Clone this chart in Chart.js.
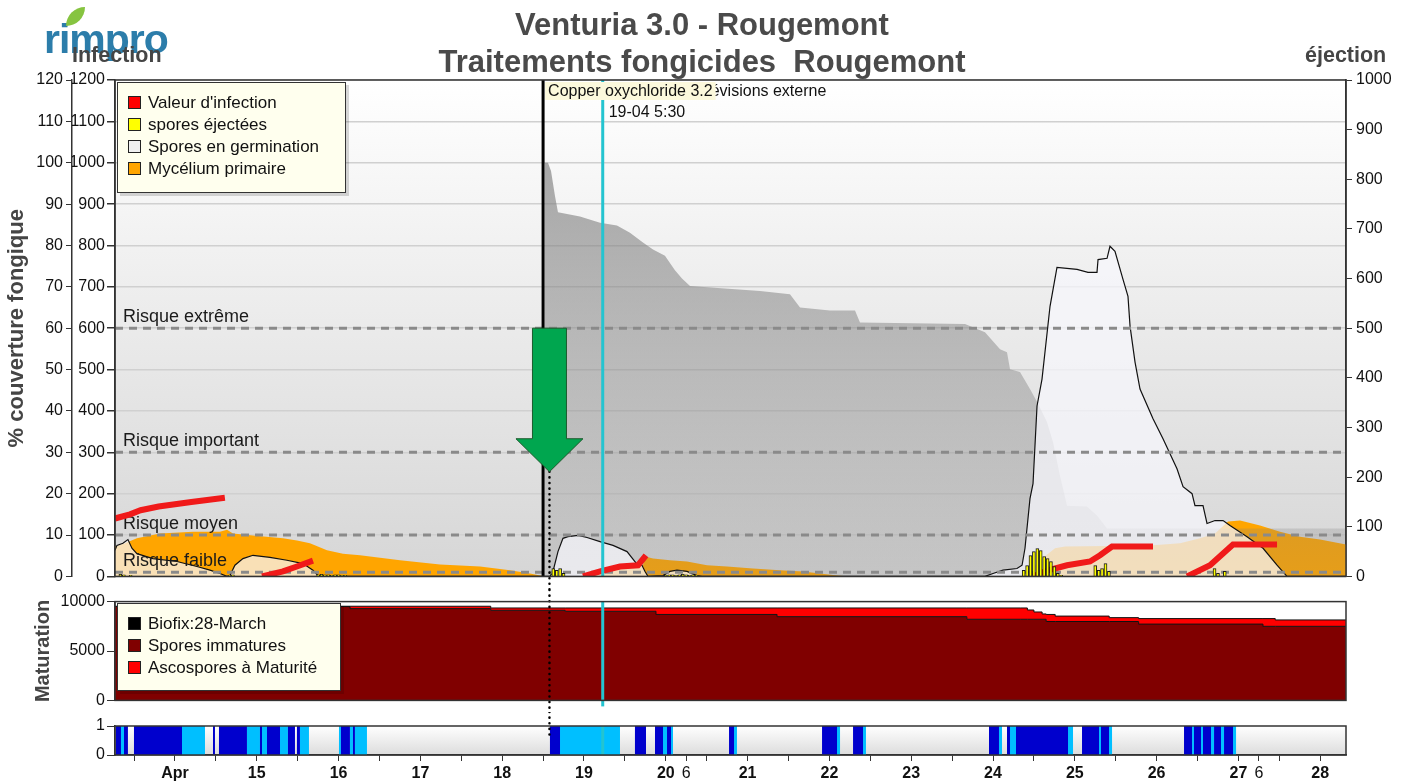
<!DOCTYPE html>
<html lang="fr">
<head>
<meta charset="utf-8">
<title>Venturia 3.0 - Rougemont</title>
<script src="https://cdn.jsdelivr.net/npm/chart.js@4.4.1/dist/chart.umd.min.js"></script>
<style>
  body { margin: 0; background: #fff; font-family: 'Liberation Sans', Arial, sans-serif; }
  #wrap { position: relative; width: 1409px; height: 781px; overflow: hidden; }
  canvas { position: absolute; left: 0; }
  .t { position: absolute; white-space: pre; }
  .title { left: 0; width: 1404px; text-align: center; font-weight: bold; font-size: 31px; color: #4a4a4a; line-height: 36px; }
  .axisname { font-weight: bold; font-size: 21.5px; color: #454545; line-height: 22px; }
  .legend { position: absolute; box-sizing: border-box; background: #ffffee; border: 1px solid #333;
            box-shadow: 3px 3px 0 rgba(0,0,0,.15); font-size: 17px; color: #111; padding: 9px 0 0 10px; }
  .legend div { height: 22px; line-height: 22px; white-space: nowrap; }
  .legend i { display: inline-block; width: 11px; height: 11px; border: 1px solid #222; vertical-align: -1px; margin-right: 7px; }
  .logo { left: 44px; top: 19px; font-weight: bold; font-size: 41px; line-height: 40px; color: #2c7daa; letter-spacing: -1px; }
  .leaf { position: absolute; left: 66px; top: 7px; width: 19px; height: 19px; background: #86c440; border-radius: 100% 0 100% 0; }
</style>
</head>
<body>
<div id="wrap">
  <canvas id="main" width="1409" height="590" style="top:0"></canvas>
  <canvas id="mat" width="1409" height="122" style="top:590px"></canvas>
  <canvas id="wet" width="1409" height="69" style="top:712px"></canvas>

  <div class="t logo">rimpro</div>
  <div class="leaf"></div>
  <div class="t title" style="top:7px">Venturia 3.0 - Rougemont</div>
  <div class="t title" style="top:44px">Traitements fongicides  Rougemont</div>
  <div class="t axisname" style="left:72px;top:44px">Infection</div>
  <div class="t axisname" style="left:1305px;top:44px">éjection</div>
  <div class="legend" id="mainLegend" style="left:117px;top:82px;width:229px;height:111px"></div>
  <div class="legend" id="matLegend" style="left:117px;top:603px;width:224px;height:88px"></div>
</div>
<script>
// time axis in days of April (14.0 = 14 April 00:00)
const X_MIN = 13.267, X_MAX = 28.315;

// fungicide coverage (%), gray area
const coverT = [18.515, 18.52, 18.56, 18.597, 18.645, 18.682, 18.951, 19.196, 19.403, 19.562,
  19.721, 19.844, 19.99, 20.112, 20.198, 20.296, 21.152, 21.518, 21.641, 22.007,
  22.313, 22.374, 23.658, 23.902, 24.086, 24.171, 24.208, 24.33, 24.452, 24.538,
  24.66, 24.733, 24.819, 24.905, 25.149, 25.271, 25.394, 28.315];
const coverV = [0, 100, 100, 98, 92, 88, 87, 85.5, 84.8, 83.1,
  80.7, 79, 77.5, 74, 72, 70.2, 69, 68.2, 65, 64.3,
  64.3, 61.4, 61, 59, 54.9, 54.2, 50.1, 49.4, 45.3, 42.2,
  37.3, 32.5, 24.3, 17.1, 16.9, 14.7, 11.6, 11.6];

// primary mycelium (infection scale)
const mycT = [13.267, 13.389, 13.535, 13.817, 14.22, 14.55, 14.636, 14.709, 14.954, 15.32,
  15.491, 15.65, 15.858, 16.054, 16.262, 16.751, 17.24, 17.729, 18.095, 18.34,
  18.523, 19.134, 19.196, 19.721, 19.746, 19.844, 20.051, 20.259, 20.504, 20.748,
  21.066, 21.396, 21.677, 21.885, 22.093, 22.252, 24.391, 24.575, 24.758, 24.88,
  25.919, 26.286, 26.531, 26.714, 26.873, 27.02, 27.264, 27.509, 27.753, 27.998, 28.315];
const mycV = [72, 80, 92, 104, 108, 108, 113, 104, 99, 92,
  87, 80, 63, 55, 51, 39, 29, 24, 15, 7,
  0, 0, 19, 27, 48, 43, 39, 36, 27, 24,
  19, 15, 12, 7, 2, 0, 0, 39, 68, 72,
  75, 80, 92, 104, 133, 135, 123, 108, 96, 89, 77];

// germinating spores (infection scale)
const germT = [13.267, 13.291, 13.364, 13.425, 13.474, 13.535, 13.731, 14.024, 14.269, 14.428,
  14.55, 14.636, 14.672, 14.733, 14.831, 14.954, 15.161, 15.369, 15.565, 15.687,
  15.748, 15.834, 18.584, 18.621, 18.682, 18.743, 18.804, 18.927, 19.037, 19.196,
  19.355, 19.526, 19.623, 19.66, 19.709, 19.746, 19.782, 19.966, 20.051, 20.137,
  20.259, 20.381, 20.443, 23.902, 24.0, 24.122, 24.293, 24.355, 24.391, 24.452,
  24.489, 24.538, 24.599, 24.697, 24.782, 25.027, 25.161, 25.271, 25.284, 25.394,
  25.43, 25.491, 25.589, 25.65, 25.675, 25.736, 25.797, 25.956, 26.078, 26.249,
  26.323, 26.433, 26.469, 26.567, 26.616, 26.714, 26.812, 26.897, 27.105, 27.301,
  27.472, 27.594, 28.315];
const germV = [63, 75, 80, 89, 68, 55, 43, 36, 24, 15,
  7, 0, 2, 27, 43, 51, 46, 39, 31, 15,
  2, 0, 0, 12, 60, 92, 96, 99, 94, 84,
  75, 60, 36, 27, 27, 12, 0, 2, 12, 15,
  12, 2, 0, 0, 7, 15, 19, 27, 68, 188,
  224, 412, 477, 653, 747, 742, 735, 735, 766, 769,
  798, 786, 718, 677, 605, 518, 453, 381, 333, 260,
  217, 200, 171, 171, 128, 135, 135, 123, 96, 68,
  27, 0, 0];

// infection value (red), null = gap
const infT = [13.267, 13.45, 13.58, 13.8, 14.2, 14.61, 14.62,
  15.064, 15.32, 15.491, 15.687, 15.7,
  18.988, 19.196, 19.44, 19.66, 19.758, 19.77,
  24.489, 24.66, 24.905, 25.186, 25.308, 25.455, 25.956, 25.97,
  26.372, 26.653, 26.934, 27.472];
const infV = [140, 150, 160, 169, 180, 190, null,
  0, 12, 24, 38, null,
  0, 12, 24, 27, 51, null,
  0, 14, 27, 36, 51, 72, 72, null,
  0, 27, 77, 77];

// ejected spores (right axis), hourly bars
const ejT = [13.333, 13.375, 13.458, 14.667, 14.708,
  15.75, 15.792, 15.833, 15.875, 15.917, 15.958, 16.0, 16.042, 16.083,
  18.625, 18.667, 18.708, 18.75,
  20.0, 20.042, 20.083, 20.125, 20.167, 20.208, 20.25, 20.292, 20.333, 20.375,
  24.375, 24.417, 24.458, 24.5, 24.542, 24.583, 24.625, 24.667, 24.708, 24.75, 24.792, 24.833,
  25.25, 25.292, 25.333, 25.375, 25.417,
  26.708, 26.75, 26.833];
const ejV = [4, 3, 2, 2, 3,
  3, 4, 3, 3, 2, 3, 3, 2, 2,
  16, 12, 16, 6,
  2, 3, 3, 2, 3, 4, 3, 2, 3, 2,
  12, 22, 42, 50, 56, 52, 40, 36, 30, 20, 6, 2,
  22, 12, 16, 26, 10,
  16, 6, 10];

// maturation (step values, held until next time)
const matT = [13.267, 16.14, 17.86, 18.77, 19.88, 21.36, 23.68, 24.34, 24.42, 24.5,
  24.6, 24.65, 24.76, 25.42, 25.78, 27.3, 27.45, 28.315];
const matImmature = [9500, 9290, 9120, 9020, 8700, 8475, 8211, 8211, 8211, 8211,
  8211, 7986, 7986, 7986, 7722, 7498, 7498, 7498];
const matMature = [30, 240, 235, 335, 655, 880, 1144, 1144, 939, 739,
  539, 714, 548, 391, 558, 782, 645, 645];

// leaf wetness: 2 = wet (dark blue), 1 = light blue
const wetStart = [13.279, 13.34, 13.377, 13.499, 14.086, 14.465, 14.538, 14.88, 15.039, 15.064,
  15.125, 15.284, 15.381, 15.491, 15.528, 16.005, 16.029, 16.139, 16.176, 16.2,
  18.584, 18.707, 19.623, 19.868, 19.966, 20.015, 20.064, 20.773, 20.834, 21.91,
  22.093, 22.289, 22.411, 23.951, 24.073, 24.171, 24.208, 24.281, 24.917, 25.088,
  25.296, 25.32, 25.418, 26.335, 26.433, 26.457, 26.543, 26.567, 26.665, 26.702,
  26.787, 26.824, 26.934];
const wetEnd = [13.34, 13.377, 13.425, 14.086, 14.367, 14.489, 14.88, 15.039, 15.064, 15.125,
  15.284, 15.381, 15.467, 15.528, 15.638, 16.029, 16.139, 16.176, 16.2, 16.347,
  18.707, 19.44, 19.758, 19.966, 20.015, 20.064, 20.088, 20.834, 20.87, 22.093,
  22.13, 22.411, 22.447, 24.073, 24.11, 24.208, 24.281, 24.917, 24.978, 25.296,
  25.32, 25.418, 25.455, 26.433, 26.457, 26.543, 26.567, 26.665, 26.702, 26.787,
  26.824, 26.934, 26.971];
const wetLevel = [2, 1, 2, 2, 1, 2, 2, 1, 2, 1,
  2, 1, 2, 2, 1, 1, 2, 1, 2, 1,
  2, 1, 2, 2, 1, 2, 1, 2, 1, 2,
  1, 2, 1, 2, 1, 2, 1, 2, 1, 2,
  1, 2, 1, 2, 1, 2, 1, 2, 1, 2,
  1, 2, 1];

// risk thresholds (% scale)
const riskLevels = [60, 30, 10, 1];
const riskLabels = ['Risque extrême', 'Risque important', 'Risque moyen', 'Risque faible'];

// treatment and forecast markers
const treatTime = [18.5];
const treatLabel = ['Copper oxychloride 3.2'];
const arrowTime = 18.578, arrowTop = 60, arrowTip = 25.3;
const forecastTime = 19.229;
const forecastLabel = ['Prévisions externe', '19-04 5:30'];

// x axis: day labels at midnight, extra "6" marks
const extraTicks = [20.25, 27.25];
const extraTickLabel = '6';
const monthLabel = 'Apr';

const mainLegend = [["Valeur d'infection", '#ff0000'], ['spores éjectées', '#ffff00'],
  ['Spores en germination', '#f0f0f0'], ['Mycélium primaire', '#ffa500']];
const matLegend = [['Biofix:28-March', '#000000'], ['Spores immatures', '#800000'],
  ['Ascospores à Maturité', '#ff0000']];

const FONT = "'Liberation Sans', Arial, sans-serif";
const CYAN = '#24c4d0';
const plain = (v) => String(v);

Chart.defaults.font.family = FONT;
Chart.defaults.font.size = 16;
Chart.defaults.color = '#111';
Chart.defaults.animation = false;
Chart.defaults.events = [];
Chart.defaults.plugins.legend.display = false;
Chart.defaults.plugins.tooltip.enabled = false;
Chart.defaults.elements.point.radius = 0;

function fillLegend(id, items) {
  document.getElementById(id).innerHTML = items
    .map(([t, c]) => `<div><i style="background:${c}"></i>${t}</div>`).join('');
}
fillLegend('mainLegend', mainLegend);
fillLegend('matLegend', matLegend);

const pts = (t, v) => t.map((x, i) => ({x, y: v[i]}));

function line(ctx, x0, y0, x1, y1) {
  ctx.beginPath(); ctx.moveTo(x0, y0); ctx.lineTo(x1, y1); ctx.stroke();
}
function dotted(ctx, x, y0, y1) {
  ctx.save();
  ctx.strokeStyle = '#000'; ctx.lineWidth = 2.5; ctx.lineCap = 'round';
  ctx.setLineDash([0.1, 5.5]);
  line(ctx, x, y0, x, y1);
  ctx.restore();
}
function frame(ctx, a) {
  ctx.save();
  ctx.strokeStyle = '#333'; ctx.lineWidth = 1.5;
  ctx.strokeRect(a.left, a.top, a.right - a.left, a.bottom - a.top);
  ctx.restore();
}
function vGradient(ctx, a, c0, c1) {
  const g = ctx.createLinearGradient(0, a.top, 0, a.bottom);
  g.addColorStop(0, c0); g.addColorStop(1, c1);
  return g;
}

// ---------- main chart ----------
const mainMarks = {
  id: 'mainMarks',
  beforeDraw(chart) {
    const {ctx, chartArea: a} = chart;
    ctx.save();
    ctx.fillStyle = vGradient(ctx, a, '#ffffff', '#d6d6d6');
    ctx.fillRect(a.left, a.top, a.right - a.left, a.bottom - a.top);
    ctx.restore();
  },
  beforeDatasetDraw(chart, args) {
    if (chart.data.datasets[args.index].label !== "Valeur d'infection") return;
    const {ctx, chartArea: a, scales: {pct}} = chart;
    ctx.save();
    ctx.strokeStyle = '#8a8a8a'; ctx.lineWidth = 3; ctx.setLineDash([8, 6]);
    ctx.font = '18px ' + FONT; ctx.fillStyle = '#1a1a1a';
    ctx.textAlign = 'left'; ctx.textBaseline = 'alphabetic';
    riskLevels.forEach((lv, i) => {
      const y = pct.getPixelForValue(lv);
      line(ctx, a.left, y, a.right, y);
      ctx.fillText(riskLabels[i], a.left + 8, y - 6);
    });
    ctx.restore();
  },
  afterDatasetsDraw(chart) {
    const {ctx, chartArea: a, scales: {x, pct}} = chart;
    ctx.save();
    ctx.font = '16px ' + FONT; ctx.textBaseline = 'middle';

    // forecast marker
    const fx = x.getPixelForValue(forecastTime);
    ctx.strokeStyle = CYAN; ctx.lineWidth = 3;
    line(ctx, fx, a.top, fx, a.bottom);
    ctx.fillStyle = '#111'; ctx.textAlign = 'left';
    ctx.fillText(forecastLabel[1], fx + 6, a.top + 33);

    // treatments (label box hides the start of the forecast label)
    treatTime.forEach((t, i) => {
      const tx = x.getPixelForValue(t);
      ctx.strokeStyle = '#000'; ctx.lineWidth = 3;
      line(ctx, tx, a.top, tx, a.bottom);
      const w = ctx.measureText(treatLabel[i]).width;
      const boxR = tx + 8 + w;
      ctx.fillStyle = '#111';
      ctx.fillText(forecastLabel[0], boxR - ctx.measureText('Pré').width + 4, a.top + 12);
      ctx.fillStyle = '#fcf9dc';
      ctx.fillRect(tx + 2, a.top + 2, w + 6, 18);
      ctx.fillStyle = '#111';
      ctx.fillText(treatLabel[i], tx + 5, a.top + 11.5);
    });

    // green arrow + dotted line
    const ax = x.getPixelForValue(arrowTime);
    const yTop = pct.getPixelForValue(arrowTop), yTip = pct.getPixelForValue(arrowTip);
    const sh = 17, hh = 33.5, hl = 33;
    dotted(ctx, ax, yTip, chart.height);
    ctx.beginPath();
    ctx.moveTo(ax - sh, yTop); ctx.lineTo(ax + sh, yTop); ctx.lineTo(ax + sh, yTip - hl);
    ctx.lineTo(ax + hh, yTip - hl); ctx.lineTo(ax, yTip); ctx.lineTo(ax - hh, yTip - hl);
    ctx.lineTo(ax - sh, yTip - hl); ctx.closePath();
    ctx.fillStyle = '#00a64f'; ctx.fill();
    ctx.strokeStyle = '#1c5a2c'; ctx.lineWidth = 1; ctx.stroke();
    ctx.restore();
    frame(ctx, a);
  }
};

new Chart(document.getElementById('main'), {
  type: 'line',
  data: {
    datasets: [
      {
        type: 'bar', label: 'spores éjectées', yAxisID: 'ej', order: 1,
        data: pts(ejT, ejV), backgroundColor: '#ffff00', borderColor: '#1a1a1a',
        borderWidth: 1, barThickness: 3
      },
      {
        label: "Valeur d'infection", yAxisID: 'inf', order: 2,
        data: pts(infT, infV), borderColor: '#f01a1a', borderWidth: 6,
        borderCapStyle: 'butt', spanGaps: false, fill: false
      },
      {
        label: 'Spores en germination', yAxisID: 'inf', order: 3,
        data: pts(germT, germV), borderColor: '#111', borderWidth: 1.2,
        backgroundColor: 'rgba(246,246,252,0.72)', fill: 'origin'
      },
      {
        label: 'Couverture fongicide', yAxisID: 'pct', order: 4,
        data: pts(coverT, coverV), borderWidth: 0, fill: 'origin',
        backgroundColor: (c) => {
          const a = c.chart.chartArea;
          if (!a) return 'rgba(128,128,128,0.5)';
          return vGradient(c.chart.ctx, a, 'rgba(125,125,125,0.75)', 'rgba(128,128,128,0.2)');
        }
      },
      {
        label: 'Mycélium primaire', yAxisID: 'inf', order: 5,
        data: pts(mycT, mycV), borderWidth: 0, backgroundColor: '#ffa500', fill: 'origin'
      }
    ]
  },
  options: {
    responsive: false, devicePixelRatio: 1,
    layout: { padding: { top: 80, bottom: 12, left: 0, right: 0 } },
    scales: {
      x: { type: 'linear', min: X_MIN, max: X_MAX, offset: false, display: false },
      pct: {
        position: 'left', weight: 1, min: 0, max: 120,
        ticks: { stepSize: 10, padding: 3, color: '#111', callback: plain },
        grid: { drawOnChartArea: false, tickLength: 6, tickColor: '#333' },
        border: { color: '#333', width: 1.5 },
        title: { display: true, text: '% couverture fongique', color: '#454545',
                 font: { size: 22, weight: 'bold' }, padding: { top: 4, bottom: 0 } },
        afterFit: (s) => { s.width = 72; }
      },
      inf: {
        position: 'left', weight: 0, min: 0, max: 1200,
        ticks: { stepSize: 100, padding: 2, color: '#111', callback: plain },
        grid: { color: '#d0d0d0', lineWidth: 1.5, tickLength: 8, tickColor: '#333' },
        border: { color: '#333', width: 1.5 },
        afterFit: (s) => { s.width = 43; }
      },
      ej: {
        position: 'right', min: 0, max: 1000,
        ticks: { stepSize: 100, padding: 4, color: '#111', callback: plain },
        grid: { drawOnChartArea: false, tickLength: 6, tickColor: '#333' },
        border: { color: '#333', width: 1.5 },
        afterFit: (s) => { s.width = 63; }
      }
    }
  },
  plugins: [mainMarks]
});

// ---------- maturation chart ----------
const matMarks = {
  id: 'matMarks',
  afterDatasetsDraw(chart) {
    const {ctx, chartArea: a, scales: {x}} = chart;
    ctx.save();
    const fx = x.getPixelForValue(forecastTime);
    ctx.strokeStyle = CYAN; ctx.lineWidth = 3;
    line(ctx, fx, a.top, fx, a.bottom + 6);
    ctx.restore();
    dotted(ctx, x.getPixelForValue(arrowTime), 0, chart.height);
    frame(ctx, a);
  }
};

new Chart(document.getElementById('mat'), {
  type: 'line',
  data: {
    datasets: [
      {
        label: 'Spores immatures', order: 0, stepped: true,
        data: pts(matT, matImmature), backgroundColor: '#800000',
        borderColor: '#111', borderWidth: 1, fill: 'origin'
      },
      {
        label: 'Ascospores à Maturité', order: 1, stepped: true,
        data: pts(matT, matMature), backgroundColor: '#ff0000',
        borderColor: '#111', borderWidth: 1, fill: '-1'
      }
    ]
  },
  options: {
    responsive: false, devicePixelRatio: 1,
    layout: { padding: { top: 10, bottom: 8, left: 27, right: 63 } },
    scales: {
      x: { type: 'linear', min: X_MIN, max: X_MAX, offset: false, display: false },
      y: {
        stacked: true, min: 0, max: 10000,
        ticks: { stepSize: 5000, padding: 2, color: '#111', callback: plain },
        grid: { drawOnChartArea: false, tickLength: 8, tickColor: '#333' },
        border: { color: '#333', width: 1.5 },
        title: { display: true, text: 'Maturation', color: '#454545',
                 font: { size: 20, weight: 'bold' }, padding: { top: 4, bottom: 0 } },
        afterFit: (s) => { s.width = 88; }
      }
    }
  },
  plugins: [matMarks]
});

// ---------- leaf wetness strip ----------
function wetSeries(level) {
  const out = [{x: X_MIN, y: 0}];
  wetStart.forEach((s, i) => {
    if (wetLevel[i] === level) out.push({x: s, y: 1}, {x: wetEnd[i], y: 0});
  });
  out.push({x: X_MAX, y: 0});
  return out;
}

const wetMarks = {
  id: 'wetMarks',
  beforeDraw(chart) {
    const {ctx, chartArea: a} = chart;
    ctx.save();
    ctx.fillStyle = vGradient(ctx, a, '#ffffff', '#dcdcdc');
    ctx.fillRect(a.left, a.top, a.right - a.left, a.bottom - a.top);
    ctx.restore();
  },
  afterDatasetsDraw(chart) {
    const {ctx, chartArea: a, scales: {x}} = chart;
    ctx.save();
    const fx = x.getPixelForValue(forecastTime);
    ctx.strokeStyle = CYAN; ctx.lineWidth = 3;
    line(ctx, fx, a.top, fx, a.bottom);
    ctx.restore();
    dotted(ctx, x.getPixelForValue(arrowTime), 0, a.top + 14);
    frame(ctx, a);
  }
};

new Chart(document.getElementById('wet'), {
  type: 'line',
  data: {
    datasets: [
      { label: 'humide', data: wetSeries(2), stepped: true, borderWidth: 0,
        backgroundColor: '#0000cd', fill: 'origin' },
      { label: 'mouillé', data: wetSeries(1), stepped: true, borderWidth: 0,
        backgroundColor: '#00bfff', fill: 'origin' }
    ]
  },
  options: {
    responsive: false, devicePixelRatio: 1,
    layout: { padding: { top: 14, bottom: 0, left: 27, right: 63 } },
    scales: {
      x: {
        type: 'linear', min: X_MIN, max: X_MAX, offset: false,
        afterBuildTicks: (s) => {
          const t = [];
          for (let d = Math.ceil(X_MIN * 2) / 2; d <= X_MAX; d += 0.5) t.push(d);
          extraTicks.forEach(v => t.push(v));
          s.ticks = t.sort((p, q) => p - q).map(value => ({value}));
        },
        ticks: {
          autoSkip: false, maxRotation: 0, minRotation: 0, padding: 3, color: '#111',
          callback: (v) => {
            if (Number.isInteger(v)) return v === 14 ? monthLabel : String(v);
            return extraTicks.includes(v) ? extraTickLabel : '';
          },
          font: (c) => ({ size: 16, weight: c.tick && Number.isInteger(c.tick.value) ? 'bold' : 'normal' })
        },
        grid: { drawOnChartArea: false, tickLength: 6, tickColor: '#333' },
        border: { color: '#333', width: 1.5 },
        afterFit: (s) => { s.height = 26; }
      },
      y: {
        min: 0, max: 1,
        ticks: { stepSize: 1, padding: 2, color: '#111', callback: plain },
        grid: { drawOnChartArea: false, tickLength: 8, tickColor: '#333' },
        border: { color: '#333', width: 1.5 },
        afterFit: (s) => { s.width = 88; }
      }
    }
  },
  plugins: [wetMarks]
});
</script>
</body>
</html>
